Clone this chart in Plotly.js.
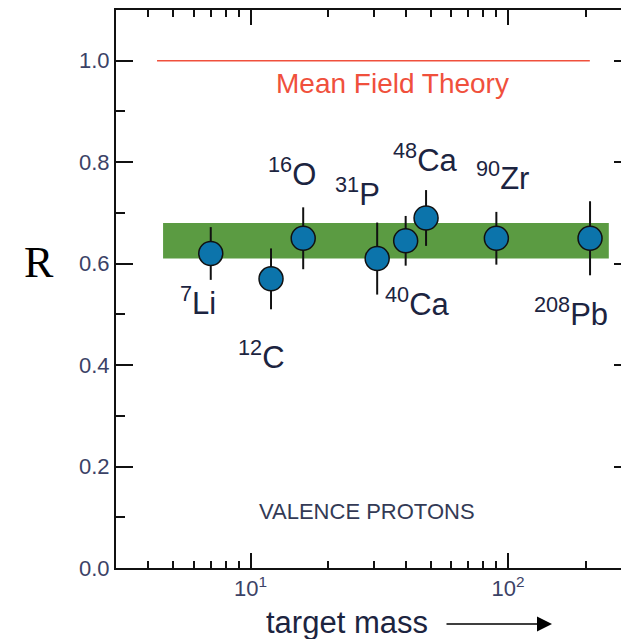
<!DOCTYPE html>
<html><head><meta charset="utf-8">
<script src="https://cdn.plot.ly/plotly-3.0.1.min.js"></script>
<style>html,body{margin:0;padding:0;overflow:hidden;background:#fff}#chart{width:640px;height:639px}</style>
</head><body><div id="chart"></div>
<script>
// ---- data ----
const nuclei = ['<sup>7</sup>Li','<sup>12</sup>C','<sup>16</sup>O','<sup>31</sup>P','<sup>40</sup>Ca','<sup>48</sup>Ca','<sup>90</sup>Zr','<sup>208</sup>Pb'];
const mass = [7, 12, 16, 31, 40, 48, 90, 208];
const ratioR = [0.62, 0.57, 0.65, 0.61, 0.645, 0.69, 0.65, 0.65];
const ratioErr = [0.052, 0.06, 0.061, 0.071, 0.049, 0.055, 0.052, 0.073];
const bandMass = [4.57, 246];
const bandR = [0.61, 0.68];
const meanFieldMass = [4.33, 207.6];
const meanFieldR = 1.0;
const xTickVals = [10, 100];
const xTickText = ['10<sup>1</sup>', '10<sup>2</sup>'];
const xMinorVals = [4, 5, 6, 7, 8, 9, 20, 30, 40, 50, 60, 70, 80, 90, 200];
const yTickVals = [0, 0.2, 0.4, 0.6, 0.8, 1.0];
const yTickText = ['0.0', '0.2', '0.4', '0.6', '0.8', '1.0'];
const yMinorVals = [0.1, 0.3, 0.5, 0.7, 0.9];

// ---- label placement (pixel offsets from each point) ----
const labelShift = [[-13,-48],[-10,-76],[-11,66],[-20,67],[12,-61],[-1,60],[6,62],[-19,-74]];

const traces = [
  {
    type: 'scatter', mode: 'lines', hoverinfo: 'skip', showlegend: false,
    x: [bandMass[0], bandMass[1], bandMass[1], bandMass[0]],
    y: [bandR[0], bandR[0], bandR[1], bandR[1]],
    fill: 'toself', fillcolor: '#5b9b42', line: {width: 0, color: '#5b9b42'}
  },
  {
    type: 'scatter', mode: 'lines', showlegend: false,
    x: meanFieldMass, y: meanFieldMass.map(() => meanFieldR),
    line: {color: '#f0503c', width: 1.5}
  },
  {
    type: 'scatter', mode: 'markers', showlegend: false,
    x: mass, y: ratioR, text: nuclei,
    error_y: {type: 'data', array: ratioErr, visible: true, color: '#111', thickness: 2, width: 0},
    marker: {size: 24, color: '#0c74ab', line: {color: '#111', width: 1.5}}
  }
];

const labelFont = {family: 'Liberation Sans, Arial, sans-serif', size: 31, color: '#1c2440'};
const annotations = nuclei.map((t, i) => ({
  x: Math.log10(mass[i]), y: ratioR[i], xref: 'x', yref: 'y', text: t,
  xanchor: 'center', yanchor: 'middle',
  showarrow: false, xshift: labelShift[i][0], yshift: labelShift[i][1], font: labelFont
}));
const c = {xanchor: 'center', yanchor: 'middle', showarrow: false, xref: 'paper', yref: 'paper'};
annotations.push(
  Object.assign({}, c, {x: 0.536, y: 0.868, text: 'Mean Field Theory',
   font: {family: 'Liberation Sans, Arial, sans-serif', size: 28, color: '#f0503c'}}),
  Object.assign({}, c, {x: 0.488, y: 0.1004, text: 'VALENCE PROTONS',
   font: {family: 'Liberation Sans, Arial, sans-serif', size: 22, color: '#333a55'}}),
  Object.assign({}, c, {x: -0.1495, y: 0.5466, text: 'R',
   font: {family: 'Liberation Serif, Times New Roman, serif', size: 44, color: '#000'}}),
  Object.assign({}, c, {x: 0.4476, y: -0.097, text: 'target mass',
   font: {family: 'Liberation Sans, Arial, sans-serif', size: 31, color: '#1c2440'}}),
  {xref: 'paper', yref: 'paper', x: 0.8466, y: -0.1004, ax: -107, ay: 0, text: '', showarrow: true,
   arrowhead: 2, arrowsize: 2, arrowwidth: 1.5, arrowcolor: '#000'}
);

const tickFont = {family: 'Liberation Sans, Arial, sans-serif', size: 22, color: '#3b4266'};
const layout = {
  width: 640, height: 639,
  margin: {l: 116, r: 9, t: 10, b: 71},
  paper_bgcolor: '#fff', plot_bgcolor: '#fff',
  showlegend: false,
  xaxis: {
    type: 'log', range: [Math.log10(3), Math.log10(300)],
    tickmode: 'array', tickvals: xTickVals, ticktext: xTickText,
    ticks: 'inside', ticklen: 15, tickwidth: 2, tickcolor: '#111',
    minor: {tickmode: 'array', tickvals: xMinorVals, ticks: 'inside', ticklen: 7, tickwidth: 2, tickcolor: '#111', showgrid: false},
    showline: true, linewidth: 2, linecolor: '#111', mirror: 'ticks',
    showgrid: false, zeroline: false, tickfont: tickFont
  },
  yaxis: {
    range: [0, 1.1],
    tickmode: 'array', tickvals: yTickVals, ticktext: yTickText,
    ticks: 'inside', ticklen: 17, tickwidth: 2, tickcolor: '#111',
    minor: {tickmode: 'array', tickvals: yMinorVals, ticks: 'inside', ticklen: 9, tickwidth: 2, tickcolor: '#111', showgrid: false},
    showline: true, linewidth: 2, linecolor: '#111', mirror: 'ticks',
    showgrid: false, zeroline: false, tickfont: tickFont
  },
  annotations: annotations
};

Plotly.newPlot('chart', traces, layout, {displayModeBar: false, staticPlot: true});
</script>
</body></html>
